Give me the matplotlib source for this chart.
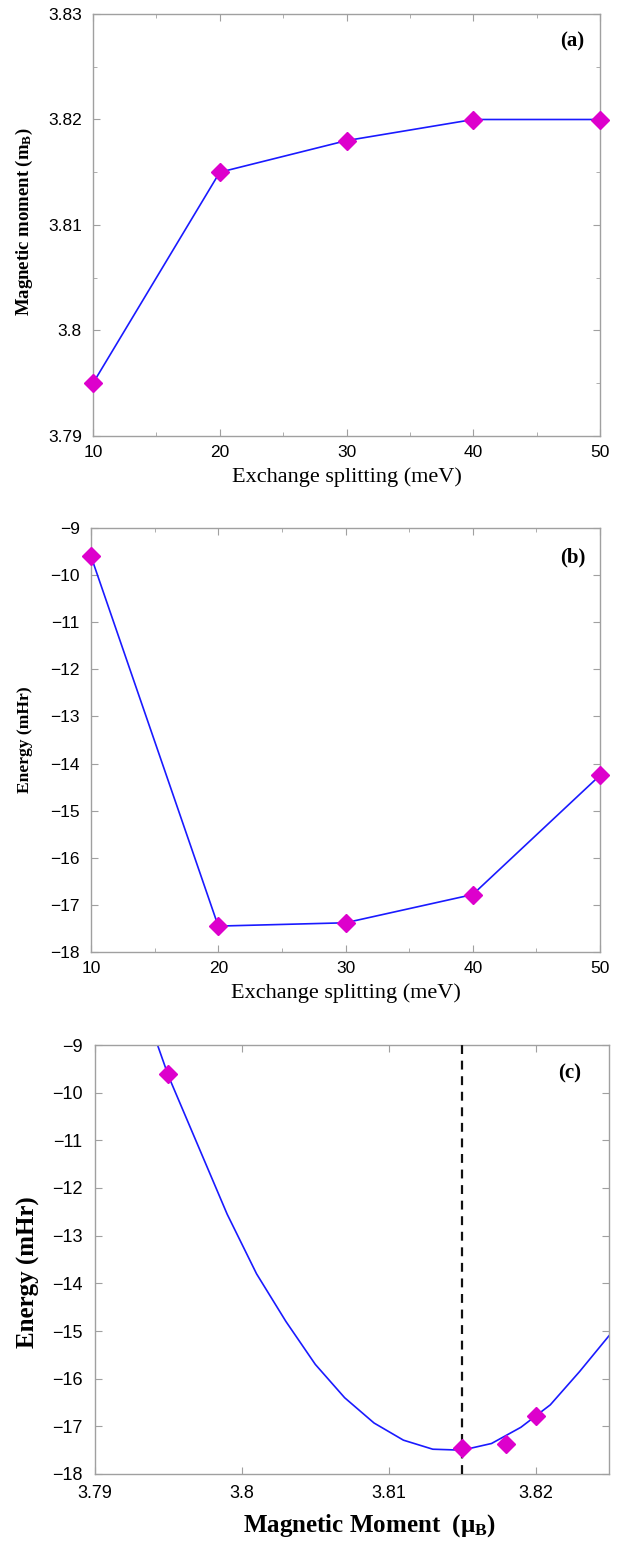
import matplotlib
matplotlib.use("Agg")
import matplotlib.pyplot as plt
from matplotlib.ticker import MultipleLocator, FuncFormatter

# ---- data ----
exch_split = [10, 20, 30, 40, 50]                       # meV
moment = [3.795, 3.815, 3.818, 3.820, 3.820]            # mu_B
energy = [-9.6, -17.45, -17.38, -16.78, -14.25]         # mHr

# panel (c) markers (first four calculations)
c_moment = [3.795, 3.815, 3.818, 3.820]
c_energy = [-9.6, -17.45, -17.38, -16.78]

# fitted curve in panel (c)
fit_moment = [3.793, 3.795, 3.797, 3.799, 3.801, 3.803, 3.805, 3.807, 3.809,
              3.811, 3.813, 3.815, 3.817, 3.819, 3.821, 3.823, 3.825]
fit_energy = [-7.9, -9.65, -11.1, -12.55, -13.8, -14.8, -15.7, -16.4, -16.93,
              -17.29, -17.48, -17.5, -17.36, -17.02, -16.55, -15.85, -15.1]
min_moment = 3.815

# ---- style ----
MAG = "#dd00cc"
LINE = "#1a1aff"
SPINE = "#a0a0a0"
SANS = ["Liberation Sans", "DejaVu Sans"]
SERIF = ["Liberation Serif", "DejaVu Serif"]
plt.rcParams["mathtext.default"] = "regular"


def fmt(v, pos):
    return f"{v:g}".replace("-", "\u2212")


def style(ax, tick_size=12.5, xpad=6.5, ypad=8):
    for s in ax.spines.values():
        s.set_color(SPINE)
        s.set_linewidth(1.0)
    ax.tick_params(which="both", direction="in", top=True, right=True,
                   color=SPINE, labelsize=tick_size)
    ax.tick_params(axis="x", which="both", pad=xpad)
    ax.tick_params(axis="y", which="both", pad=ypad)
    ax.tick_params(which="major", length=5)
    ax.tick_params(which="minor", length=3)
    for lab in ax.get_xticklabels() + ax.get_yticklabels():
        lab.set_family(SANS)
    ax.xaxis.set_major_formatter(FuncFormatter(fmt))
    ax.yaxis.set_major_formatter(FuncFormatter(fmt))


W, H = 631, 1541
fig = plt.figure(figsize=(W / 100, H / 100), dpi=100)


def axes_px(l, r, t, b):
    return fig.add_axes([l / W, 1 - b / H, (r - l) / W, (b - t) / H])


# ---- panel (a) ----
ax1 = axes_px(93, 600, 14, 436)
ax1.plot(exch_split, moment, color=LINE, lw=1.2, marker="D", ms=9.5,
         mfc=MAG, mec=MAG, clip_on=False, zorder=3)
ax1.set_xlim(10, 50)
ax1.set_ylim(3.79, 3.83)
ax1.xaxis.set_major_locator(MultipleLocator(10))
ax1.xaxis.set_minor_locator(MultipleLocator(5))
ax1.yaxis.set_major_locator(MultipleLocator(0.01))
ax1.yaxis.set_minor_locator(MultipleLocator(0.005))
style(ax1)
ax1.set_xlabel("Exchange splitting (meV)", family=SERIF, fontsize=16)
ax1.set_ylabel("Magnetic moment (m$_{B}$)", family=SERIF, fontsize=13.5,
               fontweight="bold")
ax1.xaxis.set_label_coords(0.5, -0.073)
ax1.yaxis.set_label_coords(-0.114, 0.507)
ax1.text(0.945, 0.935, "(a)", transform=ax1.transAxes, family=SERIF,
         fontsize=15, fontweight="bold", ha="center", va="center")

# ---- panel (b) ----
ax2 = axes_px(91, 600, 528, 952)
ax2.plot(exch_split, energy, color=LINE, lw=1.2, marker="D", ms=9.5,
         mfc=MAG, mec=MAG, clip_on=False, zorder=3)
ax2.set_xlim(10, 50)
ax2.set_ylim(-18, -9)
ax2.xaxis.set_major_locator(MultipleLocator(10))
ax2.xaxis.set_minor_locator(MultipleLocator(5))
ax2.yaxis.set_major_locator(MultipleLocator(1))
style(ax2)
ax2.set_xlabel("Exchange splitting (meV)", family=SERIF, fontsize=16)
ax2.set_ylabel("Energy (mHr)", family=SERIF, fontsize=12.6, fontweight="bold")
ax2.xaxis.set_label_coords(0.5, -0.073)
ax2.yaxis.set_label_coords(-0.114, 0.5)
ax2.text(0.947, 0.93, "(b)", transform=ax2.transAxes, family=SERIF,
         fontsize=15, fontweight="bold", ha="center", va="center")

# ---- panel (c) ----
ax3 = axes_px(95, 609, 1045, 1474)
ax3.plot(fit_moment, fit_energy, color=LINE, lw=1.2, zorder=2)
ax3.plot(c_moment, c_energy, ls="none", marker="D", ms=9.5, mfc=MAG,
         mec=MAG, zorder=4)
ax3.axvline(min_moment, color="#111111", ls=(0, (4, 3)), lw=1.6, zorder=3)
ax3.set_xlim(3.79, 3.825)
ax3.set_ylim(-18, -9)
ax3.xaxis.set_major_locator(MultipleLocator(0.01))
ax3.yaxis.set_major_locator(MultipleLocator(1))
style(ax3, tick_size=13, xpad=8, ypad=9)
ax3.set_xlabel(r"Magnetic Moment  ($\mathregular{\mu_{B}}$)", family=SERIF,
               fontsize=18, fontweight="bold")
ax3.set_ylabel("Energy (mHr)", family=SERIF, fontsize=18, fontweight="bold")
ax3.xaxis.set_label_coords(0.535, -0.09)
ax3.yaxis.set_label_coords(-0.107, 0.47)
ax3.text(0.924, 0.934, "(c)", transform=ax3.transAxes, family=SERIF,
         fontsize=15, fontweight="bold", ha="center", va="center")

fig.savefig("out.png", dpi=100, facecolor="white")
